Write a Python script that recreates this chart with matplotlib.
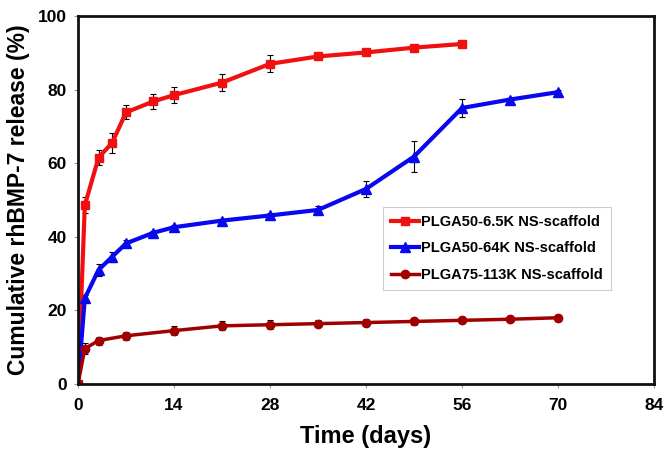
import matplotlib.pyplot as plt

# release data
days_a = [0, 1, 3, 5, 7, 11, 14, 21, 28, 35, 42, 49, 56]
rel_a = [0, 48.6, 61.5, 65.6, 73.8, 76.8, 78.5, 81.9, 87.0, 89.0, 90.1, 91.4, 92.4]
err_a = [0, 2.2, 2.1, 2.7, 1.9, 2.0, 2.1, 2.3, 2.3, 0.5, 0.3, 0.5, 0.5]

days_b = [0, 1, 3, 5, 7, 11, 14, 21, 28, 35, 42, 49, 56, 63, 70]
rel_b = [0, 23.3, 31.0, 34.6, 38.2, 41.1, 42.6, 44.4, 45.8, 47.3, 53.0, 61.8, 75.0, 77.3, 79.3]
err_b = [0, 0.8, 1.6, 1.4, 0.8, 0.5, 0.5, 0.4, 0.6, 1.1, 2.1, 4.3, 2.5, 0.4, 0.6]

days_c = [0, 1, 3, 7, 14, 21, 28, 35, 42, 49, 56, 63, 70]
rel_c = [0, 9.6, 11.8, 13.1, 14.5, 15.8, 16.1, 16.4, 16.7, 17.0, 17.3, 17.6, 18.0]
err_c = [0, 1.5, 1.1, 1.1, 1.2, 1.2, 1.2, 0.9, 1.0, 0.9, 0.8, 0.8, 0.8]

labels = ['PLGA50-6.5K NS-scaffold', 'PLGA50-64K NS-scaffold', 'PLGA75-113K NS-scaffold']

plt.rcParams['font.family'] = ['Liberation Sans', 'DejaVu Sans']
plt.rcParams['font.weight'] = 'bold'

fig = plt.figure(figsize=(6.71, 4.65), dpi=100)
ax = fig.add_axes([0.1162, 0.1742, 0.8585, 0.7914])

eb = dict(ecolor='black', elinewidth=0.8, capsize=2.5, capthick=0.8)
a = ax.errorbar(days_a, rel_a, yerr=err_a, color='#f01010', lw=3, marker='s', ms=6, **eb)
b = ax.errorbar(days_b, rel_b, yerr=err_b, color='#0808f0', lw=3, marker='^', ms=7, **eb)
c = ax.errorbar(days_c, rel_c, yerr=err_c, color='#a00000', lw=2.5, marker='o', ms=6, **eb)

ax.set_xlim(0, 84)
ax.set_ylim(0, 100)
ax.set_xticks(range(0, 85, 14))
ax.set_yticks(range(0, 101, 20))
ax.tick_params(direction='out', length=3, width=0.8, colors='#999999',
               labelcolor='black', labelsize=12.5)
ax.tick_params(axis='x', pad=7)
ax.tick_params(axis='y', pad=5)
for s in ax.spines.values():
    s.set_linewidth(2)
    s.set_color('#111111')

ax.set_xlabel('Time (days)', fontsize=17, fontweight='bold', labelpad=9)
ax.set_ylabel('Cumulative rhBMP-7 release (%)', fontsize=16.5, fontweight='bold', labelpad=6)

leg = ax.legend([a[0], b[0], c[0]], labels, loc='upper left',
                bbox_to_anchor=(0.53, 0.481), fontsize=10.5,
                fancybox=False, edgecolor='#cccccc', handlelength=1.9,
                handletextpad=0.15, borderpad=0.55, labelspacing=0.85,
                borderaxespad=0, framealpha=1)
leg.get_frame().set_linewidth(0.8)

fig.savefig('out.png', dpi=100)
